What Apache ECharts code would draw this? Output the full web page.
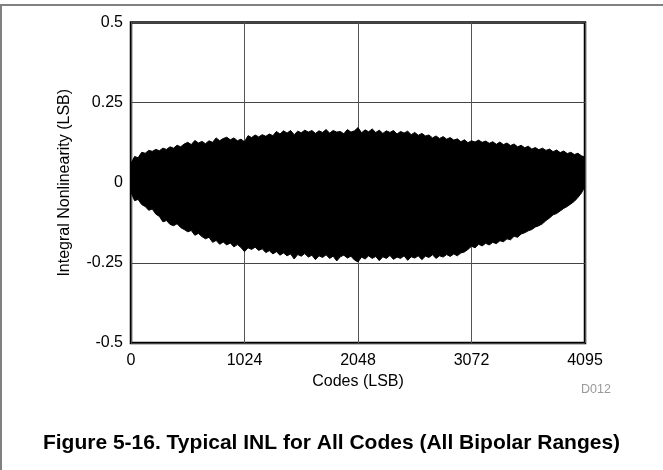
<!DOCTYPE html>
<html>
<head>
<meta charset="utf-8">
<script src="https://cdn.jsdelivr.net/npm/echarts@6/dist/echarts.min.js"></script>
<style>
html,body{margin:0;padding:0;background:#fff;}
#chart{width:663px;height:470px;}
</style>
</head>
<body>
<div id="chart"></div>
<script>
// Codes sampled along the x axis (LSB)
var codes = [0,32,64,96,128,160,192,224,256,288,320,352,384,416,448,480,
512,544,576,608,640,672,704,736,768,800,832,864,896,928,960,992,
1024,1056,1088,1120,1152,1184,1216,1248,1280,1312,1344,1376,1408,1440,1472,1504,
1536,1568,1600,1632,1664,1696,1728,1760,1792,1824,1856,1888,1920,1952,1984,2016,
2048,2080,2112,2144,2176,2208,2240,2272,2304,2336,2368,2400,2432,2464,2496,2528,
2560,2592,2624,2656,2688,2720,2752,2784,2816,2848,2880,2912,2944,2976,3008,3040,
3072,3104,3136,3168,3200,3232,3264,3296,3328,3360,3392,3424,3456,3488,3520,3552,
3584,3616,3648,3680,3712,3744,3776,3808,3840,3872,3904,3936,3968,4000,4032,4064,4095];

// Upper envelope of the INL band (LSB)
var inlUpper = [0.060,0.082,0.078,0.095,0.092,0.101,0.098,0.104,0.100,0.108,0.104,0.112,0.108,0.117,0.112,0.121,
0.126,0.119,0.132,0.124,0.129,0.122,0.131,0.126,0.140,0.131,0.138,0.142,0.134,0.140,0.131,0.136,
0.128,0.147,0.141,0.149,0.143,0.150,0.145,0.152,0.147,0.160,0.152,0.162,0.155,0.163,0.150,0.161,
0.156,0.164,0.158,0.163,0.154,0.162,0.157,0.166,0.155,0.163,0.158,0.160,0.153,0.166,0.158,0.162,
0.172,0.156,0.165,0.159,0.168,0.157,0.164,0.154,0.162,0.157,0.163,0.152,0.160,0.155,0.161,0.150,
0.157,0.148,0.154,0.146,0.149,0.140,0.146,0.138,0.144,0.136,0.141,0.133,0.137,0.128,0.134,0.125,
0.131,0.127,0.133,0.126,0.130,0.123,0.128,0.120,0.127,0.119,0.124,0.116,0.121,0.112,0.117,0.109,
0.114,0.105,0.110,0.103,0.108,0.101,0.105,0.097,0.102,0.094,0.099,0.091,0.095,0.088,0.092,0.084,0.080];

// Lower envelope of the INL band (LSB)
var inlLower = [-0.030,-0.056,-0.052,-0.068,-0.074,-0.086,-0.082,-0.098,-0.105,-0.122,-0.118,-0.130,-0.134,-0.128,-0.140,-0.146,
-0.153,-0.149,-0.164,-0.158,-0.168,-0.175,-0.170,-0.186,-0.180,-0.192,-0.185,-0.194,-0.188,-0.200,-0.193,-0.202,
-0.215,-0.203,-0.208,-0.201,-0.211,-0.206,-0.218,-0.212,-0.222,-0.215,-0.226,-0.219,-0.228,-0.222,-0.238,-0.224,
-0.229,-0.221,-0.232,-0.226,-0.240,-0.228,-0.233,-0.225,-0.236,-0.229,-0.244,-0.231,-0.226,-0.235,-0.229,-0.241,
-0.247,-0.232,-0.238,-0.228,-0.236,-0.230,-0.243,-0.231,-0.236,-0.227,-0.239,-0.232,-0.236,-0.228,-0.242,-0.231,
-0.235,-0.228,-0.240,-0.229,-0.233,-0.225,-0.236,-0.228,-0.232,-0.224,-0.230,-0.222,-0.228,-0.219,-0.216,-0.208,
-0.198,-0.203,-0.192,-0.197,-0.189,-0.194,-0.186,-0.190,-0.181,-0.184,-0.175,-0.178,-0.167,-0.170,-0.160,-0.156,
-0.150,-0.146,-0.138,-0.134,-0.128,-0.118,-0.110,-0.100,-0.096,-0.088,-0.080,-0.074,-0.066,-0.058,-0.046,-0.032,-0.012];

var xTickValues = [0, 1024, 2048, 3072, 4096];
var xTickLabels = ['0', '1024', '2048', '3072', '4095'];
var yTickValues = [-0.5, -0.25, 0, 0.25, 0.5];
var yTickLabels = ['-0.5', '-0.25', '0', '0.25', '0.5'];

var upperData = codes.map(function (c, i) { return [c, inlUpper[i]]; });
var lowerData = codes.map(function (c, i) { return [c, inlLower[i]]; });

var FONT = '"Liberation Sans", Arial, sans-serif';

var chart = echarts.init(document.getElementById('chart'), null, {renderer: 'canvas'});
chart.setOption({
  animation: false,
  backgroundColor: '#fff',
  title: {
    text: 'Figure 5-16. Typical INL for All Codes (All Bipolar Ranges)',
    left: 'center',
    top: 428,
    textStyle: {fontFamily: FONT, fontSize: 21, fontWeight: 'bold', color: '#000'}
  },
  grid: {
    left: 131, top: 22.5, right: 78, bottom: 127,
    show: true, borderColor: '#000', borderWidth: 2.5, backgroundColor: 'transparent'
  },
  xAxis: {
    type: 'value', min: 0, max: 4096, interval: 1024,
    name: 'Codes (LSB)', nameLocation: 'middle', nameGap: 30,
    nameTextStyle: {fontFamily: FONT, fontSize: 16, color: '#000'},
    axisLine: {show: false},
    axisTick: {show: false},
    axisLabel: {
      fontFamily: FONT, fontSize: 16, color: '#000', margin: 10,
      showMaxLabel: true,
      formatter: function (v) { var k = xTickValues.indexOf(v); return k >= 0 ? xTickLabels[k] : ''; }
    },
    splitLine: {show: true, lineStyle: {color: '#555', width: 1}}
  },
  yAxis: {
    type: 'value', min: -0.5, max: 0.5, interval: 0.25,
    name: 'Integral Nonlinearity (LSB)', nameLocation: 'middle', nameGap: 58, nameRotate: 90,
    nameTextStyle: {fontFamily: FONT, fontSize: 16, color: '#000'},
    axisLine: {show: false},
    axisTick: {show: false},
    axisLabel: {
      fontFamily: FONT, fontSize: 16, color: '#000', margin: 8,
      formatter: function (v) {
        for (var k = 0; k < yTickValues.length; k++) { if (Math.abs(yTickValues[k] - v) < 1e-9) return yTickLabels[k]; }
        return '';
      }
    },
    splitLine: {show: true, lineStyle: {color: '#444', width: 1}}
  },
  series: [
    {
      type: 'line', data: upperData, symbol: 'none', silent: true, z: 3,
      lineStyle: {color: '#000', width: 1},
      areaStyle: {color: '#000', opacity: 1, origin: -0.02}
    },
    {
      type: 'line', data: lowerData, symbol: 'none', silent: true, z: 3,
      lineStyle: {color: '#000', width: 1},
      areaStyle: {color: '#000', opacity: 1, origin: 0.02}
    }
  ],
  graphic: [
    {type: 'line', shape: {x1: 0, y1: 5, x2: 663, y2: 5}, style: {stroke: '#808080', lineWidth: 2}, silent: true},
    {type: 'line', shape: {x1: 1, y1: 5, x2: 1, y2: 470}, style: {stroke: '#808080', lineWidth: 2}, silent: true},
    {type: 'text', left: 581, top: 383, silent: true,
     style: {text: 'D012', fontFamily: FONT, fontSize: 12.5, fill: '#999'}}
  ]
});
</script>
</body>
</html>
